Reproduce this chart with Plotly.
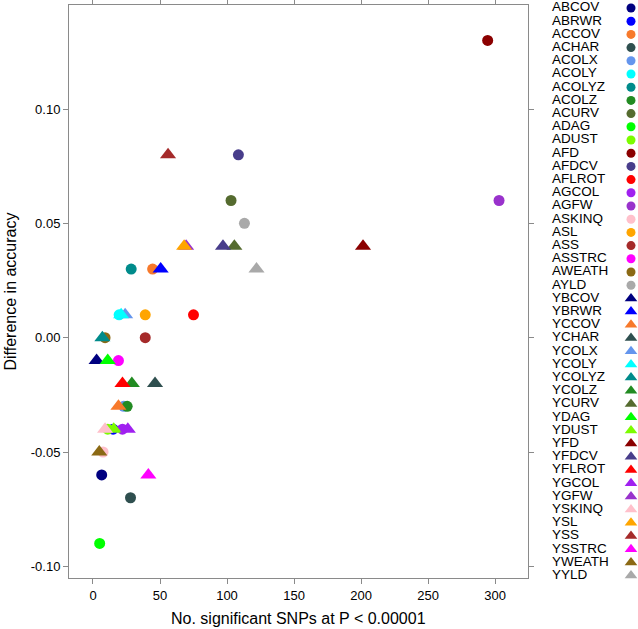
import plotly.graph_objects as go

W, H = 638, 629

# ---- data ----
names = ["ABCOV", "ABRWR", "ACCOV", "ACHAR", "ACOLX", "ACOLY", "ACOLYZ", "ACOLZ", "ACURV",
         "ADAG", "ADUST", "AFD", "AFDCV", "AFLROT", "AGCOL", "AGFW", "ASKINQ", "ASL", "ASS",
         "ASSTRC", "AWEATH", "AYLD",
         "YBCOV", "YBRWR", "YCCOV", "YCHAR", "YCOLX", "YCOLY", "YCOLYZ", "YCOLZ", "YCURV",
         "YDAG", "YDUST", "YFD", "YFDCV", "YFLROT", "YGCOL", "YGFW", "YSKINQ", "YSL", "YSS",
         "YSSTRC", "YWEATH", "YYLD"]

n_snps = [6.5, 15, 44.5, 28, 23, 19.5, 28.5, 25.5, 103,
          5, 11, 294.5, 108.5, 75, 22, 303, 7.5, 39, 39,
          19, 9, 113,
          2.7, 50.5, 19, 46.3, 24, 21, 7, 29, 105.5,
          11, 15.5, 201.5, 97, 22, 26, 69.5, 9, 68, 56,
          41.3, 4.7, 122]

diff_acc = [-0.06, -0.04, 0.03, -0.07, -0.03, 0.01, 0.03, -0.03, 0.06,
            -0.09, -0.04, 0.13, 0.08, 0.01, -0.04, 0.06, -0.05, 0.01, 0.00,
            -0.01, 0.00, 0.05,
            -0.01, 0.03, -0.03, -0.02, 0.01, 0.01, 0.00, -0.02, 0.04,
            -0.01, -0.04, 0.04, 0.04, -0.02, -0.04, 0.04, -0.04, 0.04, 0.08,
            -0.06, -0.05, 0.03]

palette = ["#000080", "#0000FF", "#F7792B", "#2F4F4F", "#6495ED", "#00FFFF", "#008B8B",
           "#228B22", "#556B2F", "#00FF00", "#7CFC00", "#8B0000", "#483D8B", "#FF0000",
           "#A020F0", "#9932CC", "#FFC0CB", "#FFA500", "#A52A2A", "#FF00FF", "#8B6914",
           "#A9A9A9"]
colors = palette + palette

x_ticks = [0, 50, 100, 150, 200, 250, 300]
y_ticks = [-0.10, -0.05, 0.00, 0.05, 0.10]
y_tick_labels = ["-0.10", "-0.05", "0.00", "0.05", "0.10"]

# ---- layout geometry (pixels) ----
PL, PR, PT, PB = 69, 528, 5, 578
LEG_TEXT_X, LEG_MARK_X, LEG_Y0, LEG_DY = 552, 631, 8, 13.2

fig = go.Figure()

for nm, xv, yv, col in zip(names, n_snps, diff_acc, colors):
    sym = "circle" if nm.startswith("A") else "triangle-up"
    size = 11 if sym == "circle" else 14
    fig.add_trace(go.Scatter(
        x=[xv], y=[yv], mode="markers", name=nm, showlegend=False,
        marker=dict(symbol=sym, size=size, color=col, opacity=1, line=dict(width=0)),
        xaxis="x", yaxis="y"))

# custom legend (text left, symbol right)
leg_y = [LEG_Y0 + i * LEG_DY for i in range(len(names))]
fig.add_trace(go.Scatter(
    x=[LEG_TEXT_X] * len(names), y=leg_y, mode="text", text=names,
    textposition="middle right", showlegend=False, cliponaxis=False,
    textfont=dict(family="Liberation Sans, Arial, sans-serif", size=13.5, color="black"),
    xaxis="x2", yaxis="y2", hoverinfo="skip"))
fig.add_trace(go.Scatter(
    x=[LEG_MARK_X] * len(names), y=leg_y, mode="markers", showlegend=False, cliponaxis=False,
    marker=dict(symbol=["circle" if n.startswith("A") else "triangle-up" for n in names],
                size=[9 if n.startswith("A") else 11 for n in names],
                color=colors, opacity=1, line=dict(width=0)),
    xaxis="x2", yaxis="y2", hoverinfo="skip"))

frame_col = "#8a8a8a"
font = "Liberation Sans, Arial, sans-serif"
LEG_DOM0 = 0.83

fig.update_layout(
    width=W, height=H,
    margin=dict(l=0, r=0, t=0, b=0),
    paper_bgcolor="white", plot_bgcolor="white",
    hovermode=False,
    font=dict(family=font, color="black"),
    xaxis=dict(domain=[PL / W, PR / W], range=[-17.9, 324.6],
               tickvals=x_ticks, ticks="outside", ticklen=5, tickcolor=frame_col,
               showline=True, linecolor=frame_col, linewidth=1, mirror="ticks",
               showgrid=False, zeroline=False, tickfont=dict(size=13, family=font),
               anchor="y"),
    yaxis=dict(domain=[1 - PB / H, 1 - PT / H], range=[-0.1051, 0.1455],
               tickvals=y_ticks, ticktext=y_tick_labels, ticks="outside", ticklen=5,
               tickcolor=frame_col, showline=True, linecolor=frame_col, linewidth=1,
               mirror="ticks", showgrid=False, zeroline=False,
               tickfont=dict(size=13, family=font), anchor="x"),
    xaxis2=dict(domain=[LEG_DOM0, 1.0], range=[LEG_DOM0 * W, W], visible=False, anchor="y2"),
    yaxis2=dict(domain=[0, 1], range=[H, 0], visible=False, anchor="x2"),
    annotations=[
        dict(text="No. significant SNPs at P < 0.00001", x=(PL + PR) / 2 / W, y=1 - 618 / H,
             xref="paper", yref="paper", showarrow=False, xanchor="center", yanchor="middle",
             font=dict(size=16, family=font)),
        dict(text="Difference in accuracy", x=10 / W, y=1 - ((PT + PB) / 2) / H,
             xref="paper", yref="paper", showarrow=False, textangle=-90,
             xanchor="center", yanchor="middle", font=dict(size=16, family=font)),
    ],
)

# remove the browser's default 8px page margin so the figure sits at the window origin
fig.write_html("out.html",
               config={"displayModeBar": False, "staticPlot": True},
               post_script="document.body.style.margin='0';document.body.style.padding='0';")
